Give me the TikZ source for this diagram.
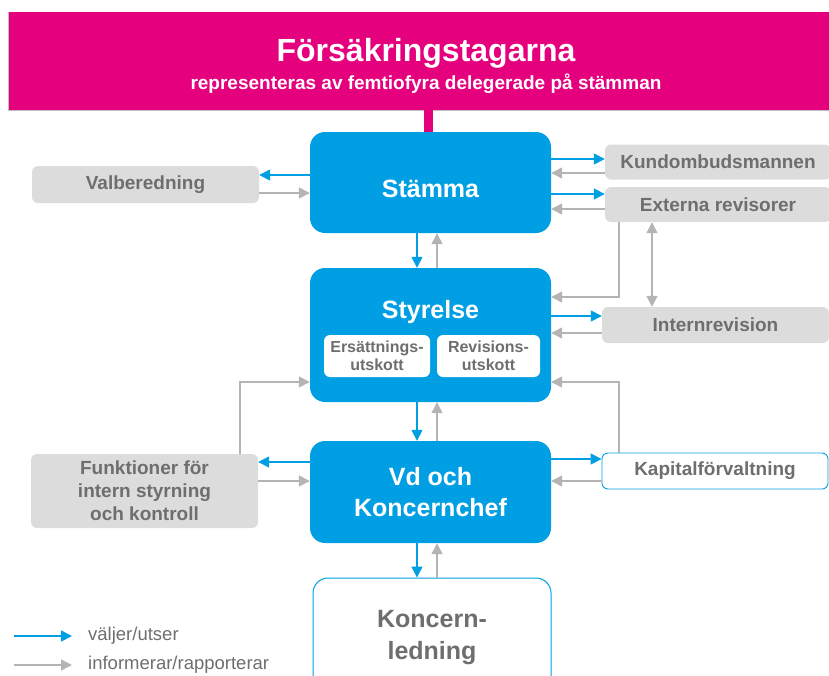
\documentclass[tikz,border=0pt]{standalone}
\usepackage{fontspec}
\setmainfont{Liberation Sans}
\usetikzlibrary{positioning, arrows.meta}

\definecolor{fpink}{HTML}{E5007D}
\definecolor{fblue}{HTML}{009FE3}
\definecolor{fgray}{HTML}{DCDCDC}
\definecolor{ftext}{HTML}{6E6E6E}
\definecolor{farrow}{HTML}{B4B4B4}

\tikzset{
  bluebox/.style={fill=fblue, rounded corners=15pt, text=white, align=center,
    font=\bfseries\fontsize{25}{31}\selectfont, minimum width=241pt, inner sep=0pt},
  bluetext/.style={text=white, font=\bfseries\fontsize{25}{31}\selectfont},
  graybox/.style={fill=fgray, rounded corners=6pt, text=ftext, align=center,
    font=\bfseries\fontsize{19}{23}\selectfont, inner sep=0pt},
  whitebox/.style={fill=white, draw=fblue, line width=0.9pt, rounded corners=6pt, text=ftext,
    align=center, font=\bfseries\fontsize{19}{23}\selectfont, inner sep=0pt},
  subbox/.style={fill=white, rounded corners=6pt, text=ftext, align=center,
    font=\bfseries\fontsize{16}{18}\selectfont, minimum height=42pt, inner sep=0pt},
  choose/.style={draw=fblue, line width=1.6pt, -{Triangle[length=11pt,width=11pt]}},
  report/.style={draw=farrow, line width=1.4pt, -{Triangle[length=11pt,width=11pt]}},
  legendtext/.style={text=ftext, anchor=west, font=\fontsize{18.5}{20}\selectfont, inner sep=0pt}
}

\begin{document}
\begin{tikzpicture}[x=1pt, y=-1pt]
    \useasboundingbox (0,0) rectangle (829,675);

    % the banner on top
    \node[fill=fpink, minimum width=830pt, minimum height=98pt, inner sep=0pt, anchor=north west]
      (banner) at (8,12) {};
    \draw[black!25, line width=1pt] (banner.north west) |- ([xshift=30pt]banner.south east);
    \node[text=white, font=\bfseries\fontsize{32}{36}\selectfont] (title) at (426,53) {Försäkringstagarna};
    \node[text=white, font=\bfseries\fontsize{19}{22}\selectfont] (subtitle) at (426,84)
      {representeras av femtiofyra delegerade på stämman};

    % the main column
    \node[bluebox, minimum height=101pt] (stamma) at (430.5,182.5) {};
    \node[bluetext] (stammatext) at (430.5,189) {Stämma};
    \node[bluebox, minimum height=134pt] (styrelse) at (430.5,335) {};
    \node[bluetext] (styrelsetext) at (430.5,312) {Styrelse};
    \node[subbox, minimum width=106pt] (ersutskott) at (377,356) {Ersättnings-\\utskott};
    \node[subbox, minimum width=103pt] (revutskott) at (488.5,356) {Revisions-\\utskott};
    \node[bluebox, minimum height=102pt] (vd) at (430.5,492) {Vd och\\Koncernchef};
    \node[whitebox, rounded corners=15pt, line width=1pt, minimum width=238pt, minimum height=120pt,
      font=\bfseries\fontsize{25}{32}\selectfont] (ledning) at (432,638) {Koncern-\\ledning};

    % pink link from the banner
    \draw[fpink, line width=9pt] (banner.south -| 428,0) -- (stamma.north -| 428,0);

    % boxes on the left
    \node[graybox, minimum width=227pt, minimum height=37pt] (valberedning) at (145.5,184.5) {Valberedning};
    \node[graybox, minimum width=227pt, minimum height=74pt] (funktioner) at (144.5,491)
      {Funktioner för\\intern styrning\\och kontroll};

    % boxes on the right
    \node[graybox, minimum width=226pt, minimum height=35pt] (kundombud) at (718,162) {Kundombudsmannen};
    \node[graybox, minimum width=226pt, minimum height=35pt] (extrev) at (718,204.5) {Externa revisorer};
    \node[graybox, minimum width=227pt, minimum height=36pt] (internrev) at (715.5,325) {Internrevision};
    \node[whitebox, minimum width=226pt, minimum height=36pt] (kapital) at (715,471) {Kapitalförvaltning};

    % Stämma
    \draw[choose] (stamma.west |- 0,175) -- (valberedning.east |- 0,175);
    \draw[report] (valberedning.east |- 0,193) -- (stamma.west |- 0,193);
    \draw[choose] (stamma.east |- 0,159) -- (kundombud.west |- 0,159);
    \draw[report] (kundombud.west |- 0,173) -- (stamma.east |- 0,173);
    \draw[choose] (stamma.east |- 0,194) -- (extrev.west |- 0,194);
    \draw[report] (extrev.west |- 0,209) -- (stamma.east |- 0,209);
    \draw[choose] (stamma.south -| 417,0) -- (styrelse.north -| 417,0);
    \draw[report] (styrelse.north -| 437,0) -- (stamma.south -| 437,0);

    % Styrelse
    \draw[report] (extrev.south -| 619,0) |- (styrelse.east |- 0,297);
    \draw[report, {Triangle[length=11pt,width=11pt]}-{Triangle[length=11pt,width=11pt]}]
      (extrev.south -| 652,0) -- (internrev.north -| 652,0);
    \draw[choose] (styrelse.east |- 0,316) -- (internrev.west |- 0,316);
    \draw[report] (internrev.west |- 0,333) -- (styrelse.east |- 0,333);
    \draw[report] (kapital.north -| 619,0) |- (styrelse.east |- 0,382);
    \draw[report] (funktioner.north -| 240,0) |- (styrelse.west |- 0,382);
    \draw[choose] (styrelse.south -| 417,0) -- (vd.north -| 417,0);
    \draw[report] (vd.north -| 437,0) -- (styrelse.south -| 437,0);

    % Vd och Koncernchef
    \draw[choose] (vd.west |- 0,462) -- (funktioner.east |- 0,462);
    \draw[report] (funktioner.east |- 0,481) -- (vd.west |- 0,481);
    \draw[choose] (vd.east |- 0,459) -- (kapital.west |- 0,459);
    \draw[report] (kapital.west |- 0,481) -- (vd.east |- 0,481);
    \draw[choose] (vd.south -| 417,0) -- (ledning.north -| 417,0);
    \draw[report] (ledning.north -| 437,0) -- (vd.south -| 437,0);

    % legend
    \coordinate (legchoosea) at (14,636);
    \coordinate (legchooseb) at (72,636);
    \coordinate (legreporta) at (14,665);
    \coordinate (legreportb) at (72,665);
    \draw[choose] (legchoosea) -- (legchooseb);
    \draw[report] (legreporta) -- (legreportb);
    \node[legendtext] (legchoose) at (88,636) {väljer/utser};
    \node[legendtext] (legreport) at (88,665) {informerar/rapporterar};
\end{tikzpicture}
\end{document}
